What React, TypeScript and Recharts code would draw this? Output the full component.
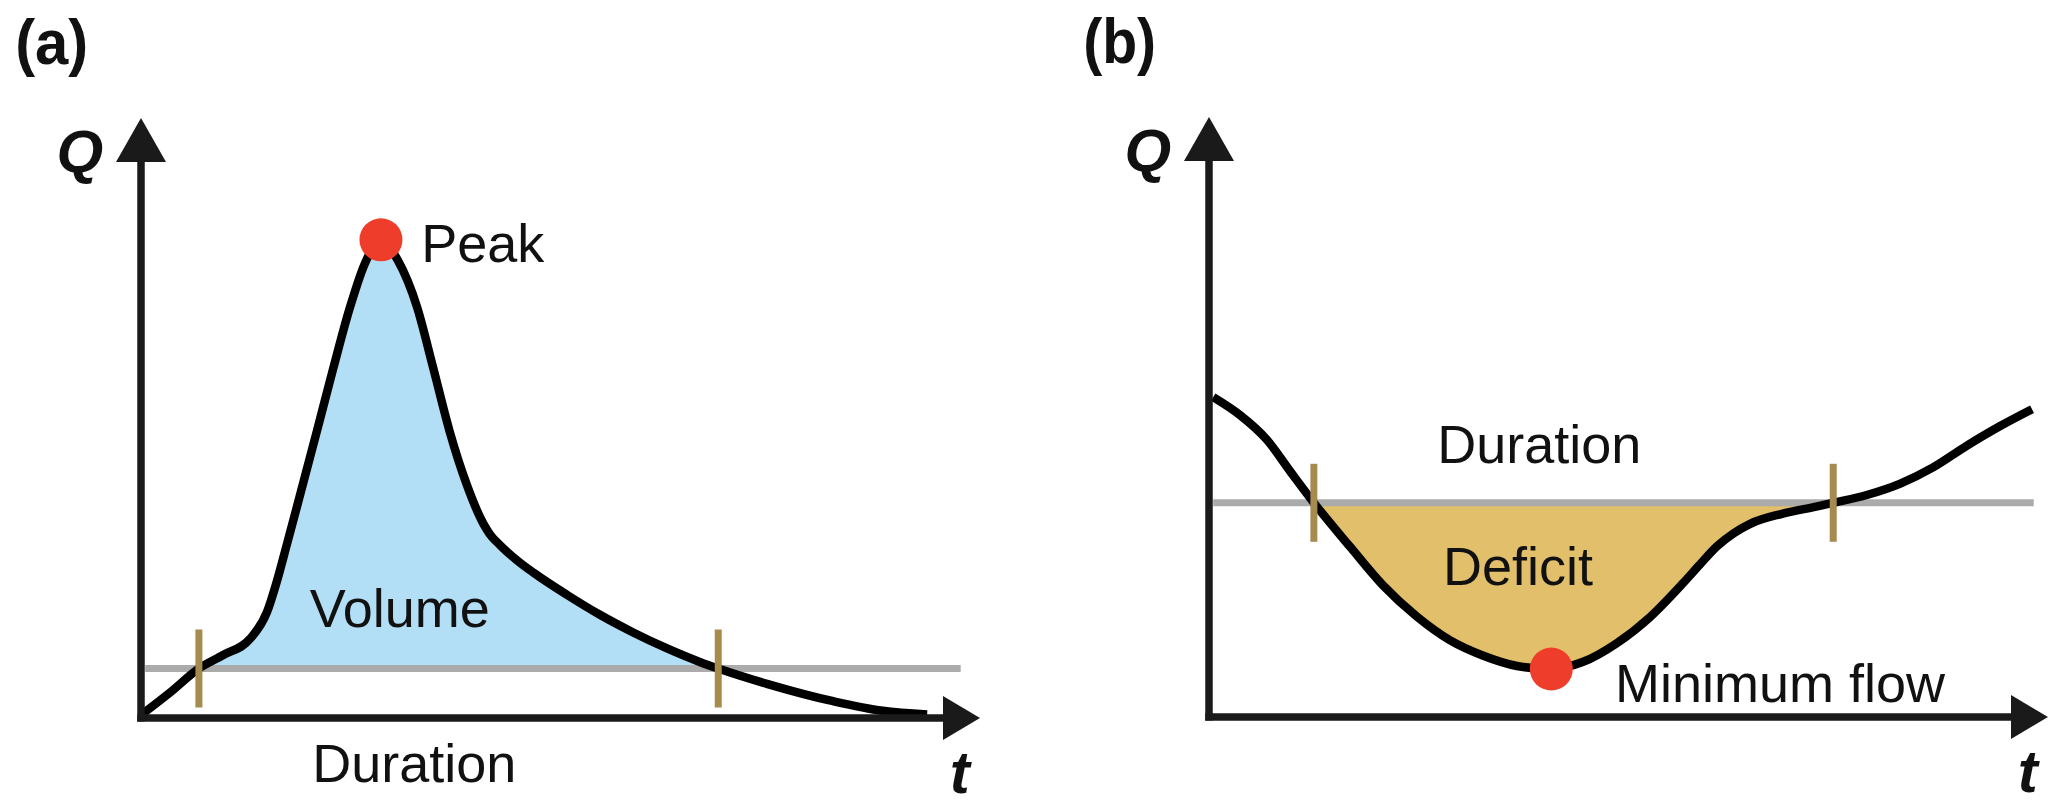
import { ComposedChart, Line, Area, XAxis, YAxis, ReferenceLine, ReferenceDot } from "recharts";

// panel (a): flood event
const tA = [0, 3.5, 6.9, 9.8, 13.0, 15.0, 16.2, 17.4, 18.7, 21.0, 22.9, 24.9, 26.7, 28.6, 30.6, 32.9, 34.8, 36.8, 38.8, 40.8, 41.6, 42.8, 44.8, 46.8, 50.8, 54.7, 58.6, 62.7, 66.6, 68.8, 74.6, 82.5, 88.4, 93.7];
const qA = [0.5, 4.3, 8.25, 10.5, 13.2, 17.6, 22.8, 29.0, 35.8, 48.0, 58.2, 68.4, 75.8, 79.7, 76.3, 68.5, 58.5, 47.7, 39.0, 32.4, 30.6, 28.8, 26.3, 24.2, 20.5, 17.2, 14.3, 11.6, 9.35, 8.25, 5.7, 2.8, 1.2, 0.6];
const thresholdA = 8.25;
const thresholdSpanA = [0.5, 97.7];
const durationA = [6.9, 68.8];

// panel (b): drought event
const tB = [0.5, 3.7, 6.9, 9.7, 12.5, 16.8, 20.7, 24.8, 28.7, 32.7, 36.7, 40.8, 44.6, 48.6, 52.6, 56.5, 58.5, 60.5, 62.5, 64.5, 68.4, 72.5, 74.4, 78.4, 82.4, 86.3, 90.3, 94.3, 98.1];
const qB = [53.3, 50.3, 46.2, 40.9, 35.7, 28.4, 22.0, 16.7, 12.8, 10.2, 8.5, 8.0, 9.2, 12.3, 16.7, 22.3, 25.4, 28.4, 30.6, 32.2, 33.9, 35.1, 35.7, 37.0, 38.9, 41.6, 45.2, 48.5, 51.3];
const thresholdB = 35.7;
const thresholdSpanB = [0.5, 98.3];
const durationB = [12.5, 74.4];

const INK = "#1a1a1a";
const GREY = "#ababab";
const TAN = "#a68a4e";
const RED = "#ee3e2b";
const FONT = "'Liberation Sans', Arial, Helvetica, sans-serif";

const rows = (t: number[], q: number[], d: number[]) =>
  t.map((x, i) => ({ t: x, q: q[i], fill: x >= d[0] && x <= d[1] ? q[i] : null }));

const arrowRight = (p: any) => (
  <polygon points={`${p.cx},${p.cy} ${p.cx - 37},${p.cy - 22} ${p.cx - 37},${p.cy + 22}`} fill={INK} />
);
const arrowUp = (p: any) => (
  <polygon points={`${p.cx},${p.cy} ${p.cx - 25},${p.cy + 44} ${p.cx + 25},${p.cy + 44}`} fill={INK} />
);

const txt = (label: string, size: number, opts: any = {}) => (p: any) => (
  <text x={p.cx} y={p.cy} fontFamily={FONT} fontSize={size} fill="#111" {...opts}>
    {label}
  </text>
);

function Panel(props: any) {
  const { width, margin, data, threshold, span, duration, fill, marker, letter, notes } = props;
  return (
    <ComposedChart width={width} height={812} data={data} margin={margin}>
      <XAxis type="number" dataKey="t" domain={[0, 100]} hide />
      <YAxis type="number" domain={[0, 100]} hide />
      <Area
        dataKey="fill"
        type="monotone"
        baseValue={threshold}
        fill={fill}
        fillOpacity={1}
        stroke="none"
        isAnimationActive={false}
      />
      <Line
        data={[{ t: span[0], base: threshold }, { t: span[1], base: threshold }]}
        dataKey="base"
        type="linear"
        stroke={GREY}
        strokeWidth={7}
        dot={false}
        isAnimationActive={false}
      />
      <Line dataKey="q" type="monotone" stroke="#000" strokeWidth={8.5} dot={false} isAnimationActive={false} />

      <ReferenceLine segment={[{ x: -0.45, y: 0 }, { x: 95.6, y: 0 }]} stroke={INK} strokeWidth={7.5} ifOverflow="visible" />
      <ReferenceLine segment={[{ x: 0, y: -0.6 }, { x: 0, y: 92.7 }]} stroke={INK} strokeWidth={7.5} ifOverflow="visible" />
      <ReferenceDot x={100} y={0} r={0} shape={arrowRight} ifOverflow="visible" />
      <ReferenceDot x={0} y={100} r={0} shape={arrowUp} ifOverflow="visible" />

      {duration.map((d: number) => (
        <ReferenceLine
          key={d}
          segment={[{ x: d, y: threshold - 6.5 }, { x: d, y: threshold + 6.5 }]}
          stroke={TAN}
          strokeWidth={7}
          ifOverflow="visible"
        />
      ))}
      <ReferenceDot x={marker.t} y={marker.q} r={21.5} fill={RED} stroke="none" ifOverflow="visible" />

      <ReferenceDot
        x={-15}
        y={109}
        r={0}
        ifOverflow="visible"
        shape={txt(letter, 63, { fontWeight: "bold", textLength: 73, lengthAdjust: "spacingAndGlyphs" })}
      />
      <ReferenceDot x={-4.5} y={91} r={0} ifOverflow="visible" shape={txt("Q", 60, { fontWeight: "bold", fontStyle: "italic", textAnchor: "end" })} />
      <ReferenceDot x={96.4} y={-12.5} r={0} ifOverflow="visible" shape={txt("t", 60, { fontWeight: "bold", fontStyle: "italic" })} />
      {notes.map((n: any) => (
        <ReferenceDot key={n.label} x={n.t} y={n.q} r={0} ifOverflow="visible" shape={txt(n.label, 54)} />
      ))}
    </ComposedChart>
  );
}

export default function App() {
  const dataA = rows(tA, qA, durationA);
  const dataB = rows(tB, qB, durationB);
  const iPeak = qA.indexOf(Math.max(...qA));
  const iMin = qB.indexOf(Math.min(...qB));

  return (
    <div style={{ position: "absolute", left: 0, top: 0, width: 2067, height: 812, background: "#fff" }}>
      <div style={{ position: "absolute", left: 0, top: 0 }}>
        <Panel
          width={1034}
          margin={{ top: 118, bottom: 94, left: 141, right: 54 }}
          data={dataA}
          threshold={thresholdA}
          span={thresholdSpanA}
          duration={durationA}
          fill="#b3dff6"
          marker={{ t: tA[iPeak], q: qA[iPeak] }}
          letter="(a)"
          notes={[
            { label: "Peak", t: 33.4, q: 76 },
            { label: "Volume", t: 20.1, q: 15.2 },
            { label: "Duration", t: 20.4, q: -10.7 },
          ]}
        />
      </div>
      <div style={{ position: "absolute", left: 1034, top: 0 }}>
        <Panel
          width={1033}
          margin={{ top: 117, bottom: 95, left: 175, right: 19 }}
          data={dataB}
          threshold={thresholdB}
          span={thresholdSpanB}
          duration={durationB}
          fill="#e2bf6a"
          marker={{ t: tB[iMin], q: qB[iMin] }}
          letter="(b)"
          notes={[
            { label: "Duration", t: 27.2, q: 42.3 },
            { label: "Deficit", t: 27.9, q: 22.0 },
            { label: "Minimum flow", t: 48.4, q: 2.5 },
          ]}
        />
      </div>
    </div>
  );
}
